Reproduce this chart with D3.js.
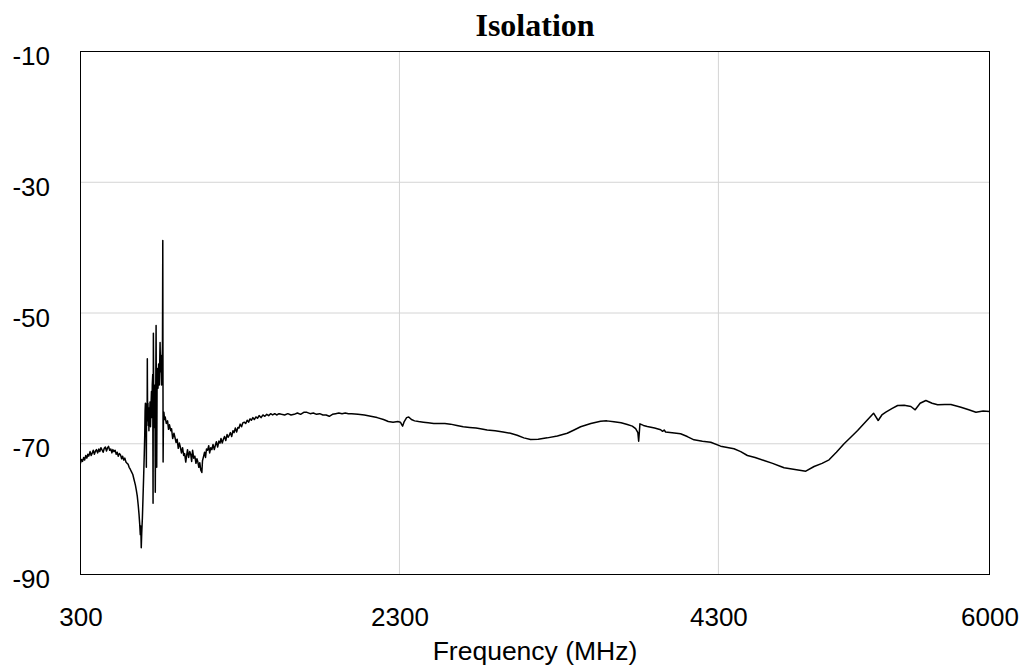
<!DOCTYPE html>
<html>
<head>
<meta charset="utf-8">
<script src="https://cdn.jsdelivr.net/npm/d3@7"></script>
<style>
  html, body { margin: 0; padding: 0; background: #fff; }
  svg { display: block; }
</style>
</head>
<body>
<svg id="chart" width="1024" height="671"></svg>
<script>
const chartTitle = "Isolation";
const xAxisLabel = "Frequency (MHz)";
const xTicks = [300, 2300, 4300, 6000];
const yTicks = [-10, -30, -50, -70, -90];
const xDomain = [300, 6000];
const yDomain = [-90, -10];

// [frequency MHz, isolation dB]
const isolation = [
  [300,-73.0],[306,-72.4],[313,-72.7],[320,-72.1],[326,-72.5],[333,-71.8],[340,-72.2],[346,-71.6],
  [352,-71.9],[360,-71.2],[367,-71.8],[374,-71.4],[380,-71.0],[387,-71.6],[394,-71.1],[400,-70.9],
  [408,-71.4],[415,-70.8],[421,-71.2],[428,-70.6],[436,-71.0],[442,-71.3],[449,-70.7],[456,-70.5],
  [463,-71.1],[470,-70.6],[476,-70.4],[483,-71.0],[490,-70.8],[497,-71.4],[503,-70.9],[510,-71.2],
  [517,-71.0],[524,-71.6],[530,-71.3],[537,-71.9],[544,-71.5],[551,-71.7],[558,-72.3],[564,-71.9],
  [571,-72.5],[578,-72.2],[585,-72.8],[592,-73.0],[598,-73.1],[605,-73.6],[612,-73.9],[620,-74.3],
  [628,-74.7],[636,-75.5],[644,-76.3],[650,-77.1],[656,-78.0],[662,-79.4],[667,-80.8],[671,-82.2],
  [675,-83.9],[678,-82.6],[681,-85.9],[684,-83.6],[688,-81.4],[692,-78.2],[696,-75.0],
  [700,-71.5],[703,-68.5],[705,-65.0],[707,-63.8],[709,-66.5],[711,-64.0],[713,-73.6],[714,-66.0],
  [716,-63.9],[718,-65.5],[719,-57.0],[719.5,-60.2],[721,-66.5],[723,-63.8],[725,-67.2],[727,-64.5],
  [729,-68.0],[731,-64.8],[733,-66.5],[736,-63.6],[739,-67.4],[742,-64.2],[745,-62.0],[748,-66.0],
  [750,-61.0],[753,-59.4],[755,-79.1],[757,-53.1],[759,-63.0],[761,-67.5],[763,-61.0],[765,-65.0],
  [767,-62.0],[769,-77.4],[771,-66.0],[774,-51.9],[774.5,-55.1],[776,-66.0],[778,-73.6],[780,-62.0],
  [783,-58.5],[786,-61.5],[790,-57.8],[794,-61.0],[799,-54.5],[802,-59.0],[805,-56.5],[808,-61.0],
  [811,-58.0],[814,-55.0],[816,-38.9],[818,-72.8],[820,-66.5],[823,-65.2],[827,-66.3],
  [831,-65.9],[838,-66.9],[846,-66.5],[852,-67.8],[858,-67.1],[866,-68.0],[871,-67.7],[878,-69.2],
  [886,-68.4],[892,-69.0],[899,-69.8],[906,-69.3],[913,-70.7],[920,-69.9],[926,-70.5],[933,-71.4],
  [940,-70.6],[947,-71.8],[953,-71.5],[960,-72.8],[966,-71.7],[971,-70.9],[978,-72.1],[985,-71.2],
  [991,-71.6],[997,-72.7],[1003,-71.0],[1010,-72.2],[1017,-71.9],[1024,-73.0],[1030,-72.3],[1036,-72.8],
  [1042,-73.6],[1048,-72.9],[1054,-74.0],[1061,-74.4],[1065,-72.6],[1071,-72.0],[1078,-71.3],[1084,-72.1],
  [1090,-70.8],[1097,-71.0],[1104,-70.3],[1110,-71.4],[1117,-70.6],[1124,-70.9],[1131,-70.1],[1139,-70.9],
  [1146,-70.2],[1152,-69.7],[1160,-70.5],[1168,-69.6],[1175,-69.9],[1181,-69.2],[1189,-69.9],[1196,-69.3],
  [1203,-68.9],[1211,-69.5],[1219,-68.6],[1226,-69.0],[1233,-68.7],[1240,-68.3],[1248,-68.9],[1256,-68.0],
  [1263,-68.3],[1271,-67.6],[1279,-68.2],[1287,-67.5],[1294,-67.6],[1301,-67.0],[1310,-67.4],[1318,-66.8],
  [1327,-66.7],[1336,-66.9],[1345,-66.4],[1354,-66.7],[1363,-66.2],[1372,-66.4],[1381,-66.0],
  [1390,-66.3],[1400,-65.9],[1410,-66.1],[1420,-65.7],[1432,-66.0],[1444,-65.6],[1456,-65.8],[1468,-65.5],
  [1480,-65.7],[1492,-65.4],[1505,-65.6],[1518,-65.4],[1530,-65.6],[1545,-65.4],[1560,-65.5],
  [1580,-65.6],[1600,-65.4],[1620,-65.6],[1640,-65.5],[1660,-65.3],[1680,-65.5],[1700,-65.2],[1720,-65.2],
  [1740,-65.4],[1760,-65.3],[1780,-65.5],[1800,-65.4],[1820,-65.6],[1840,-65.6],[1860,-65.8],[1880,-65.5],
  [1900,-65.4],[1920,-65.3],[1940,-65.4],[1960,-65.3],[1980,-65.4],[2000,-65.4],[2040,-65.5],[2080,-65.6],
  [2120,-65.8],[2160,-66.0],[2200,-66.3],[2230,-66.6],[2260,-66.7],[2290,-66.6],[2306,-66.7],[2315,-67.1],
  [2320,-67.3],[2330,-66.6],[2345,-66.0],[2358,-65.9],[2375,-66.3],[2395,-66.5],[2420,-66.6],[2450,-66.7],
  [2480,-66.8],[2515,-66.9],[2550,-66.9],[2585,-66.9],[2620,-67.0],[2660,-67.2],[2700,-67.4],[2740,-67.5],
  [2780,-67.6],[2808,-67.7],[2850,-67.9],[2900,-68.0],[2950,-68.2],[2996,-68.4],[3038,-68.7],[3080,-69.1],
  [3122,-69.35],[3170,-69.3],[3227,-69.1],[3290,-68.8],[3352,-68.4],[3395,-67.9],[3436,-67.4],[3500,-66.9],
  [3561,-66.55],[3600,-66.5],[3645,-66.64],[3690,-66.8],[3729,-67.06],[3760,-67.3],[3781,-67.7],[3795,-68.3],
  [3800,-69.6],[3805,-68.0],[3808,-66.95],[3830,-67.2],[3854,-67.36],[3900,-67.6],[3938,-67.86],[3950,-68.1],
  [3960,-67.9],[3969,-68.2],[4010,-68.3],[4063,-68.48],[4105,-68.9],[4147,-69.4],[4200,-69.6],[4252,-69.76],
  [4314,-70.37],[4398,-70.77],[4440,-71.2],[4482,-71.8],[4530,-72.1],[4586,-72.56],[4640,-73.0],[4691,-73.48],
  [4712,-73.68],[4780,-73.95],[4848,-74.2],[4900,-73.48],[4950,-73.0],[4994,-72.46],[5040,-71.3],[5088,-70.0],
  [5130,-69.0],[5173,-67.97],[5225,-66.6],[5273,-65.33],[5302,-66.44],[5325,-65.6],[5350,-65.17],[5390,-64.6],
  [5424,-64.15],[5465,-64.1],[5507,-64.3],[5534,-64.81],[5565,-63.8],[5601,-63.38],[5640,-63.8],[5675,-64.04],
  [5720,-64.0],[5758,-64.0],[5821,-64.41],[5870,-64.8],[5915,-65.17],[5960,-65.0],[6000,-65.07]
];

const svg = d3.select("#chart");
const x = d3.scaleLinear().domain(xDomain).range([80.5, 989.5]);
const y = d3.scaleLinear().domain(yDomain).range([574.5, 51.5]);

// grid
svg.append("g").selectAll("line")
  .data(yTicks.filter(t => t !== yDomain[0] && t !== yDomain[1]))
  .join("line")
  .attr("x1", x(xDomain[0])).attr("x2", x(xDomain[1]))
  .attr("y1", d => y(d)).attr("y2", d => y(d))
  .attr("stroke", "#d4d4d4").attr("stroke-width", 1);
svg.append("g").selectAll("line")
  .data(xTicks.filter(t => t !== xDomain[0] && t !== xDomain[1]))
  .join("line")
  .attr("x1", d => x(d)).attr("x2", d => x(d))
  .attr("y1", y(yDomain[0])).attr("y2", y(yDomain[1]))
  .attr("stroke", "#d4d4d4").attr("stroke-width", 1);

// data line
svg.append("defs").append("clipPath").attr("id", "clip")
  .append("rect")
  .attr("x", x(xDomain[0])).attr("y", y(yDomain[1]))
  .attr("width", x(xDomain[1]) - x(xDomain[0]))
  .attr("height", y(yDomain[0]) - y(yDomain[1]));

const line = d3.line().x(d => x(d[0])).y(d => y(d[1]));
svg.append("path")
  .datum(isolation)
  .attr("clip-path", "url(#clip)")
  .attr("fill", "none")
  .attr("stroke", "#000")
  .attr("stroke-width", 1.5)
  .attr("stroke-linejoin", "round")
  .attr("d", line);

// frame
svg.append("rect")
  .attr("x", x(xDomain[0])).attr("y", y(yDomain[1]))
  .attr("width", x(xDomain[1]) - x(xDomain[0]))
  .attr("height", y(yDomain[0]) - y(yDomain[1]))
  .attr("fill", "none").attr("stroke", "#000").attr("stroke-width", 1);

const font = "'Liberation Sans', Arial, sans-serif";
const fmt = d => String(d);

// y tick labels
const yAxis = d3.axisLeft(y).tickValues(yTicks).tickSize(0).tickPadding(0).tickFormat(fmt);
const gy = svg.append("g").attr("transform", `translate(50,0)`).call(yAxis);
gy.select(".domain").remove();
gy.selectAll("text")
  .attr("font-family", font).attr("font-size", 26).attr("fill", "#000")
  .attr("dy", "0.5em").attr("x", 0).attr("text-anchor", "end");

// x tick labels
const xAxis = d3.axisBottom(x).tickValues(xTicks).tickSize(0).tickPadding(0).tickFormat(fmt);
const gx = svg.append("g").attr("transform", `translate(0,626)`).call(xAxis);
gx.select(".domain").remove();
gx.selectAll("text")
  .attr("font-family", font).attr("font-size", 26).attr("fill", "#000")
  .attr("dy", 0).attr("y", 0);

// axis title
svg.append("text")
  .attr("x", (x(xDomain[0]) + x(xDomain[1])) / 2).attr("y", 660)
  .attr("text-anchor", "middle")
  .attr("font-family", font).attr("font-size", 26.5).attr("fill", "#000")
  .text(xAxisLabel);

// chart title
svg.append("text")
  .attr("x", (x(xDomain[0]) + x(xDomain[1])) / 2).attr("y", 36)
  .attr("text-anchor", "middle")
  .attr("font-family", "'Liberation Serif', 'Times New Roman', serif")
  .attr("font-weight", "bold").attr("font-size", 32).attr("fill", "#000")
  .text(chartTitle);
</script>
</body>
</html>
